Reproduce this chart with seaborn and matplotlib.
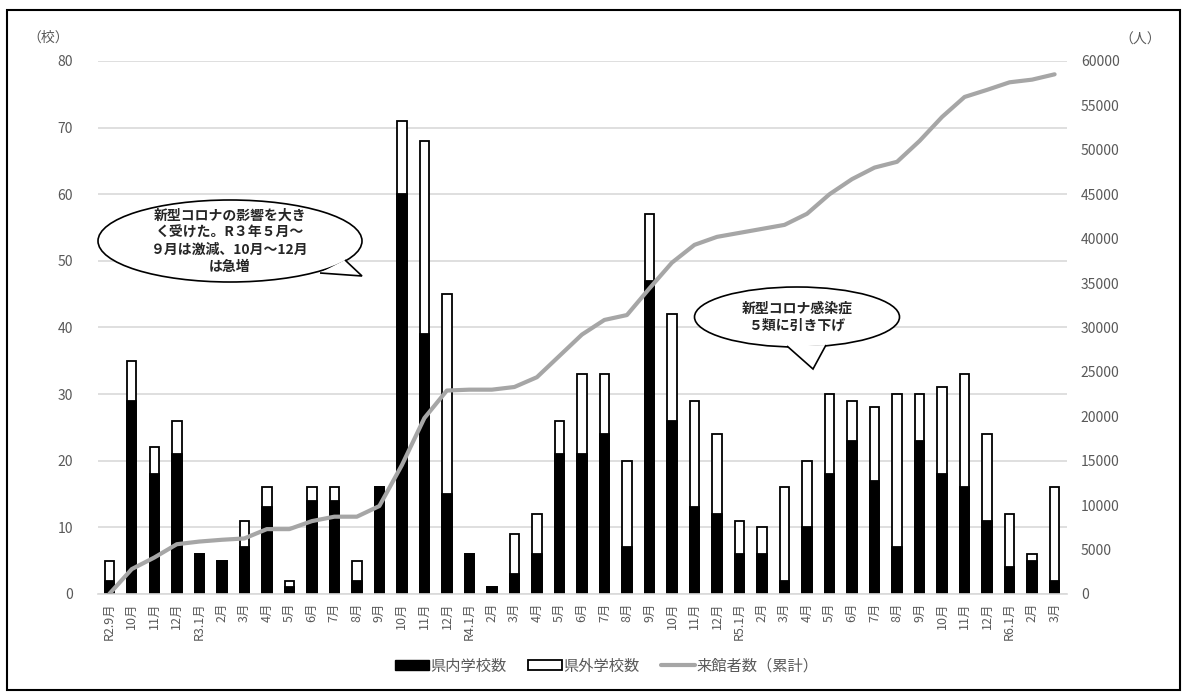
import numpy as np
import pandas as pd
import matplotlib.pyplot as plt
import seaborn as sns
from matplotlib.patches import Ellipse, Polygon, Patch, Rectangle
from matplotlib.lines import Line2D

# month labels (R2.9 - R6.3)
months = ["R2.9月", "10月", "11月", "12月",
          "R3.1月", "2月", "3月", "4月", "5月", "6月", "7月", "8月", "9月", "10月", "11月", "12月",
          "R4.1月", "2月", "3月", "4月", "5月", "6月", "7月", "8月", "9月", "10月", "11月", "12月",
          "R5.1月", "2月", "3月", "4月", "5月", "6月", "7月", "8月", "9月", "10月", "11月", "12月",
          "R6.1月", "2月", "3月"]
# schools inside prefecture
inside = [2, 29, 18, 21,
          6, 5, 7, 13, 1, 14, 14, 2, 16, 60, 39, 15,
          6, 1, 3, 6, 21, 21, 24, 7, 47, 26, 13, 12,
          6, 6, 2, 10, 18, 23, 17, 7, 23, 18, 16, 11,
          4, 5, 2]
# total schools (inside + outside)
total = [5, 35, 22, 26,
         6, 5, 11, 16, 2, 16, 16, 5, 16, 71, 68, 45,
         6, 1, 9, 12, 26, 33, 33, 20, 57, 42, 29, 24,
         11, 10, 16, 20, 30, 29, 28, 30, 30, 31, 33, 24,
         12, 6, 16]
# cumulative visitors
visitors = [0, 2800, 4100, 5600,
            5900, 6100, 6250, 7300, 7300, 8200, 8700, 8700, 9900, 14500, 19800, 22900,
            23000, 23000, 23300, 24400, 26800, 29200, 30850, 31400, 34400, 37300, 39300, 40200,
            40650, 41100, 41550, 42800, 45000, 46700, 48000, 48650, 51000, 53700, 55950, 56750,
            57600, 57900, 58500]

df = pd.DataFrame({"idx": np.arange(len(months)), "inside": inside,
                   "total": total, "visitors": visitors})

sns.set_theme(style="white")
plt.rcParams['font.family'] = ['Noto Sans CJK JP', 'DejaVu Sans']

tick_col = "#595959"
grid_col = "#d9d9d9"
line_col = "#a6a6a6"

fig = plt.figure(figsize=(11.85, 6.93), dpi=100)
ax = fig.add_axes([0.0827, 0.1429, 0.8177, 0.7691])

sns.barplot(data=df, x="idx", y="total", color="white", edgecolor="black",
            linewidth=1.3, width=0.42, ax=ax, saturation=1)
sns.barplot(data=df, x="idx", y="inside", color="black", edgecolor="black",
            linewidth=1.3, width=0.42, ax=ax, saturation=1)

ax.set_ylim(0, 80)
ax.set_yticks(range(0, 81, 10))
ax.set_xlim(-0.5, 42.55)
ax.set_xticks(range(len(months)))
ax.set_xticklabels(months, rotation=90, fontsize=9, color=tick_col)
ax.tick_params(axis="y", labelsize=10, labelcolor=tick_col, length=0, pad=18)
ax.tick_params(axis="x", length=0, pad=6)
ax.set_xlabel("")
ax.set_ylabel("")
ax.grid(axis="y", color=grid_col, linewidth=1.2)
ax.set_axisbelow(True)
for s in ["top", "right", "left"]:
    ax.spines[s].set_visible(False)
ax.spines["bottom"].set_color(grid_col)
ax.spines["bottom"].set_linewidth(1.2)

ax2 = ax.twinx()
sns.lineplot(data=df, x="idx", y="visitors", color=line_col, linewidth=3, ax=ax2)
ax2.set_ylim(0, 60000)
ax2.set_yticks(range(0, 60001, 5000))
ax2.tick_params(axis="y", labelsize=10, labelcolor=tick_col, length=0, pad=10)
ax2.set_ylabel("")
for s in ax2.spines.values():
    s.set_visible(False)
ax2.grid(False)

# unit labels
fig.text(48 / 1185, 1 - 38 / 693, "（校）", fontsize=10, color=tick_col, ha="center", va="center")
fig.text(1140 / 1185, 1 - 40 / 693, "（人）", fontsize=10, color=tick_col, ha="center", va="center")


def px(x, y):
    return (x / 1185, 1 - y / 693)


def bubble(cx, cy, w, h, tail, lines, fs):
    e = Ellipse(px(cx, cy), w / 1185, h / 693, transform=fig.transFigure,
                facecolor="white", edgecolor="black", linewidth=1.2, zorder=5)
    fig.add_artist(e)
    t = Polygon([px(*p) for p in tail], closed=False, transform=fig.transFigure,
                facecolor="white", edgecolor="black", linewidth=1.2, zorder=6)
    fig.add_artist(t)
    n = len(lines)
    for i, s in enumerate(lines):
        y = cy + (i - (n - 1) / 2) * 17
        fig.text(*px(cx, y), s, fontsize=fs, fontweight="bold", ha="center",
                 va="center", zorder=7)


bubble(230, 241, 264, 82, [(320, 273), (362, 276), (345, 260)],
       ["新型コロナの影響を大き", "く受けた。R３年５月～", "９月は激減、10月～12月", "は急増"], 10)
bubble(797, 317, 205, 60, [(787, 346), (813, 369), (826, 345)],
       ["新型コロナ感染症", "５類に引き下げ"], 10)

handles = [Patch(facecolor="black", edgecolor="black"),
           Patch(facecolor="white", edgecolor="black", linewidth=1.3),
           Line2D([0], [0], color=line_col, linewidth=3)]
fig.legend(handles, ["県内学校数", "県外学校数", "来館者数（累計）"], loc="center",
           bbox_to_anchor=(0.512, 1 - 666 / 693), ncol=3, frameon=False,
           fontsize=11, labelcolor=tick_col, handlelength=2.2, handleheight=0.55,
           handletextpad=0.1, columnspacing=1.4)

fig.add_artist(Rectangle((0.006, 0.004), 0.99, 0.981, transform=fig.transFigure,
                         fill=False, edgecolor="black", linewidth=1.5))

fig.savefig("out.png", dpi=100)
